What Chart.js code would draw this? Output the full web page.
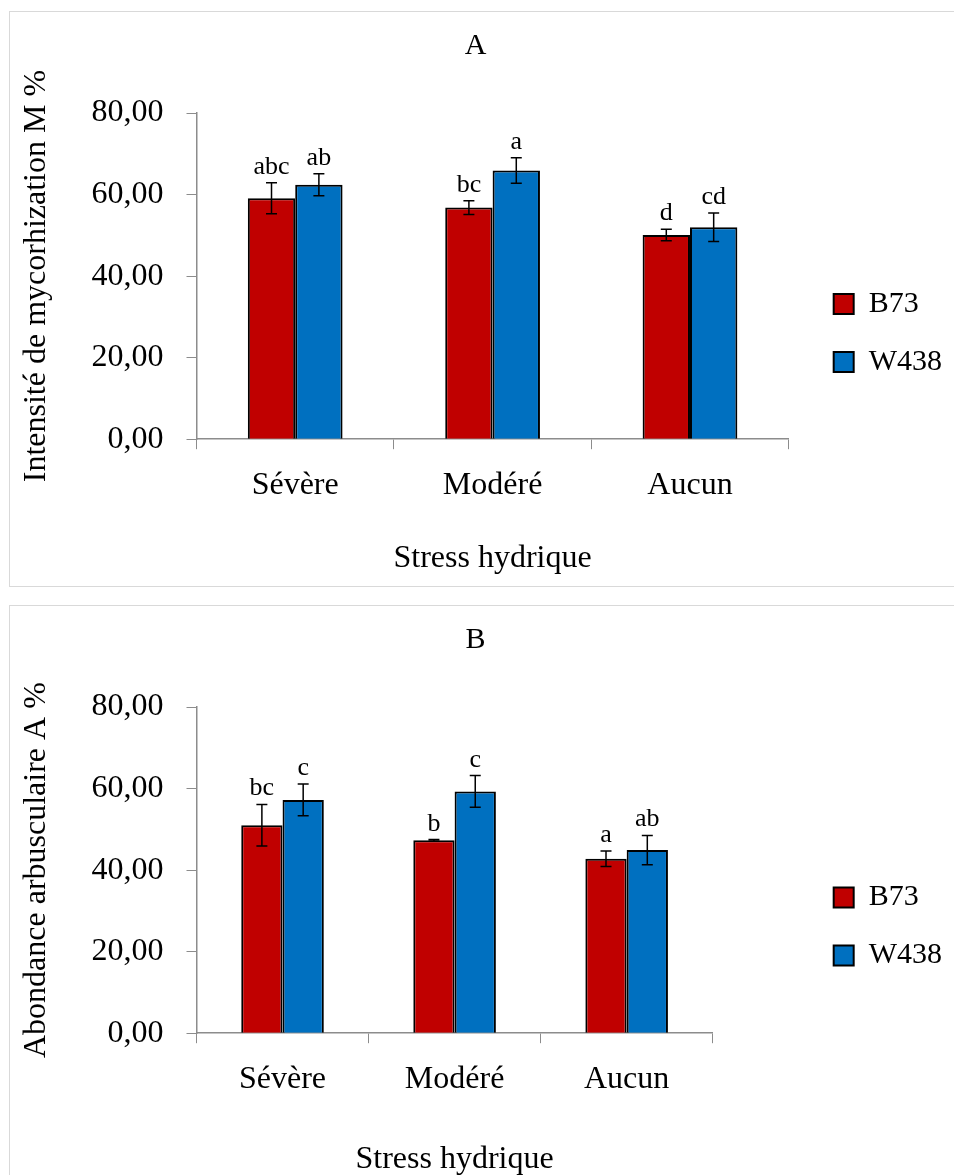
<!DOCTYPE html>
<html>
<head>
<meta charset="utf-8">
<script src="https://cdn.jsdelivr.net/npm/chart.js@4/dist/chart.umd.min.js"></script>
<style>
  body { margin: 0; background: #fff; overflow: hidden; }
  .panel { position: absolute; left: 9px; width: 1000px; border: 1.5px solid #d9d9d9; background: #fff; }
  #boxA { top: 11px; height: 574px; }
  #boxB { top: 605px; height: 600px; }
  canvas { display: block; }
</style>
</head>
<body>
<div class="panel" id="boxA"><canvas id="chartA" width="960" height="574"></canvas></div>
<div class="panel" id="boxB"><canvas id="chartB" width="960" height="574"></canvas></div>
<script>
const categories = ['Sévère', 'Modéré', 'Aucun'];
const seriesNames = ['B73', 'W438'];
const seriesColors = ['#C00000', '#0070C0'];
const yTickLabels = ['0,00', '20,00', '40,00', '60,00', '80,00'];

// A - intensité de mycorhization
const mycoB73 = [59.1, 56.8, 50.1];
const mycoW438 = [62.4, 65.9, 52.0];
const mycoB73Err = [3.8, 1.7, 1.4];
const mycoW438Err = [2.7, 3.1, 3.5];
const mycoB73Letters = ['abc', 'bc', 'd'];
const mycoW438Letters = ['ab', 'a', 'cd'];

// B - abondance arbusculaire
const arbB73 = [51.0, 47.3, 42.8];
const arbW438 = [57.2, 59.3, 44.9];
const arbB73Err = [5.1, 0.2, 1.9];
const arbW438Err = [3.9, 3.9, 3.6];
const arbB73Letters = ['bc', 'b', 'a'];
const arbW438Letters = ['c', 'c', 'ab'];

const FONT = "'Liberation Serif', 'DejaVu Serif', serif";
const AXIS_COLOR = '#8c8c8c';

// error bars + significance letters
const errorBars = {
    id: 'errorBars',
    afterDatasetsDraw(chart) {
        const ctx = chart.ctx;
        const y = chart.scales.y;
        ctx.save();
        chart.data.datasets.forEach((ds, i) => {
            chart.getDatasetMeta(i).data.forEach((bar, j) => {
                const v = ds.data[j], e = ds.errors[j];
                const top = y.getPixelForValue(v + e);
                const bot = y.getPixelForValue(v - e);
                ctx.strokeStyle = '#000';
                ctx.lineWidth = 1.5;
                ctx.beginPath();
                ctx.moveTo(bar.x, top); ctx.lineTo(bar.x, bot);
                ctx.moveTo(bar.x - 5.5, top); ctx.lineTo(bar.x + 5.5, top);
                ctx.moveTo(bar.x - 5.5, bot); ctx.lineTo(bar.x + 5.5, bot);
                ctx.stroke();
                ctx.fillStyle = '#000';
                ctx.font = '26px ' + FONT;
                ctx.textAlign = 'center';
                ctx.textBaseline = 'alphabetic';
                ctx.fillText(ds.letters[j], bar.x, top - 9);
            });
        });
        ctx.restore();
    }
};

// p: per-panel layout tweaks
function makeChart(id, title, yTitle, values, errors, letters, p) {
    const ctx = document.getElementById(id).getContext('2d');
    return new Chart(ctx, {
        type: 'bar',
        data: {
            labels: categories,
            datasets: seriesNames.map((name, k) => ({
                label: name,
                data: values[k],
                errors: errors[k],
                letters: letters[k],
                backgroundColor: seriesColors[k],
                borderColor: '#000',
                borderWidth: 2,
                barPercentage: 1,
                categoryPercentage: 0.48
            }))
        },
        options: {
            responsive: false,
            animation: false,
            layout: { padding: { left: -11, right: 18, top: 0, bottom: p.bottom } },
            plugins: {
                title: {
                    display: true,
                    text: title,
                    color: '#000',
                    font: { family: FONT, size: 30, weight: 'normal' },
                    padding: { top: 16, bottom: 49 }
                },
                legend: {
                    position: 'right',
                    title: { display: true, text: ' ', font: { size: 30 }, padding: { top: 0, bottom: p.legendPad } },
                    labels: {
                        boxWidth: 20,
                        boxHeight: 20,
                        padding: 28,
                        color: '#000',
                        font: { family: FONT, size: 30 }
                    }
                },
                tooltip: { enabled: false }
            },
            scales: {
                x: {
                    grid: { drawOnChartArea: false, tickLength: 10, color: AXIS_COLOR, offset: true },
                    border: { color: AXIS_COLOR, width: 1.5 },
                    ticks: { color: '#000', padding: 17, font: { family: FONT, size: 32 } },
                    title: {
                        display: true,
                        text: 'Stress hydrique',
                        color: '#000',
                        font: { family: FONT, size: 32 },
                        padding: { top: p.xTitlePad, bottom: 0 }
                    }
                },
                y: {
                    min: 0,
                    max: 80,
                    grid: { drawOnChartArea: false, tickLength: 10, color: AXIS_COLOR },
                    border: { color: AXIS_COLOR, width: 1.5 },
                    ticks: {
                        stepSize: 20,
                        color: '#000',
                        padding: 23,
                        font: { family: FONT, size: 32 },
                        callback: (v, i) => yTickLabels[i]
                    },
                    title: {
                        display: true,
                        text: yTitle,
                        color: '#000',
                        font: { family: FONT, size: 32 },
                        padding: { top: 18, bottom: 0 }
                    },
                    afterFit: s => { s.width = 197.5; }
                },
                gap: {
                    type: 'linear',
                    position: 'right',
                    display: true,
                    grid: { display: false },
                    ticks: { display: false },
                    border: { display: false },
                    afterFit: s => { s.width = p.gap; }
                }
            }
        },
        plugins: [errorBars]
    });
}

makeChart('chartA', 'A', 'Intensité de mycorhization M %',
    [mycoB73, mycoW438], [mycoB73Err, mycoW438Err], [mycoB73Letters, mycoW438Letters],
    { bottom: 8, xTitlePad: 18, gap: 17, legendPad: 40 });
makeChart('chartB', 'B', 'Abondance arbusculaire A %',
    [arbB73, arbW438], [arbB73Err, arbW438Err], [arbB73Letters, arbW438Letters],
    { bottom: 1, xTitlePad: 25, gap: 93, legendPad: 32 });
</script>
</body>
</html>
